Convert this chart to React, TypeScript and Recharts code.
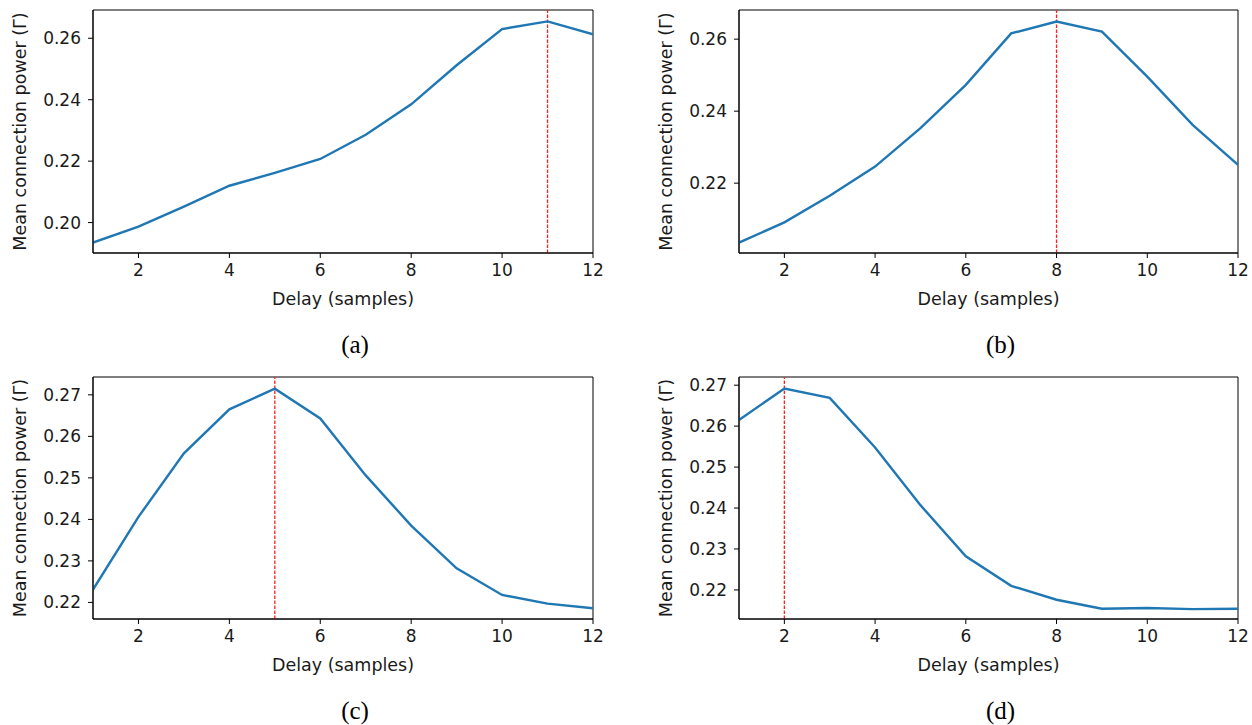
import { Label, Line, LineChart, ReferenceArea, ReferenceLine, XAxis, YAxis } from "recharts";

const delays = [1, 2, 3, 4, 5, 6, 7, 8, 9, 10, 11, 12];

const powerA = [0.1935, 0.1987, 0.2052, 0.212, 0.2162, 0.2207, 0.2286, 0.2385, 0.2512, 0.263, 0.2655, 0.2613];
const powerB = [0.2035, 0.2091, 0.2165, 0.2246, 0.2353, 0.2473, 0.2616, 0.2649, 0.2621, 0.2496, 0.2362, 0.2251];
const powerC = [0.2231, 0.2406, 0.2559, 0.2665, 0.2715, 0.2643, 0.2506, 0.2385, 0.2282, 0.2218, 0.2197, 0.2186];
const powerD = [0.2615, 0.2692, 0.2669, 0.2548, 0.2407, 0.2282, 0.221, 0.2176, 0.2154, 0.2156, 0.2153, 0.2154];

const peakA = 11;
const peakB = 8;
const peakC = 5;
const peakD = 2;

const xTicks = [2, 4, 6, 8, 10, 12];
const yTicksA = [0.2, 0.22, 0.24, 0.26];
const yTicksB = [0.22, 0.24, 0.26];
const yTicksCD = [0.22, 0.23, 0.24, 0.25, 0.26, 0.27];

const FONT = "'DejaVu Sans', sans-serif";
const tickStyle = { fontSize: 17, fill: "#1a1a1a", fontFamily: FONT };

interface PanelProps {
  values: number[];
  yDomain: [number, number];
  yTicks: number[];
  peak: number;
  caption: string;
  left: number;
  top: number;
  plotLeft: number;
  plotRight: number;
  plotTop: number;
  plotBottom: number;
}

function Panel({ values, yDomain, yTicks, peak, caption, left, top, plotLeft, plotRight, plotTop, plotBottom }: PanelProps) {
  const W = 640;
  const H = 320;
  const yAxisW = plotLeft - left;
  const xAxisH = 60;
  const data = delays.map((d, i) => ({ delay: d, power: values[i] }));
  return (
    <div style={{ position: "absolute", left, top, width: W, height: H }}>
      <LineChart
        width={W}
        height={H}
        data={data}
        margin={{
          top: plotTop - top,
          right: left + W - plotRight,
          left: 0,
          bottom: top + H - plotBottom - xAxisH,
        }}
      >
        <XAxis
          dataKey="delay"
          type="number"
          domain={[1, 12]}
          ticks={xTicks}
          height={xAxisH}
          tickSize={5}
          tickMargin={6}
          tick={tickStyle}
          axisLine={{ stroke: "#000", strokeWidth: 1 }}
          tickLine={{ stroke: "#000", strokeWidth: 1 }}
          allowDataOverflow
        >
          <Label
            value="Delay (samples)"
            position="insideBottom"
            offset={8}
            style={{ fontSize: 17.5, fill: "#1a1a1a", fontFamily: FONT }}
          />
        </XAxis>
        <YAxis
          type="number"
          domain={yDomain}
          ticks={yTicks}
          width={yAxisW}
          tickSize={5}
          tickMargin={7}
          tick={tickStyle}
          tickFormatter={(v: number) => v.toFixed(2)}
          axisLine={{ stroke: "#000", strokeWidth: 1 }}
          tickLine={{ stroke: "#000", strokeWidth: 1 }}
          allowDataOverflow
        >
          <Label
            value="Mean connection power (Γ)"
            angle={-90}
            position="insideLeft"
            offset={20}
            style={{ fontSize: 17.5, fill: "#1a1a1a", fontFamily: FONT, textAnchor: "middle" }}
          />
        </YAxis>
        <ReferenceArea
          x1={1}
          x2={12}
          y1={yDomain[0]}
          y2={yDomain[1]}
          fill="none"
          stroke="#000"
          strokeWidth={1}
        />
        <ReferenceLine x={peak} stroke="#ff2020" strokeWidth={1.3} strokeDasharray="3.5 1.5" />
        <Line
          type="linear"
          dataKey="power"
          stroke="#1f77b4"
          strokeWidth={2.4}
          dot={false}
          activeDot={false}
          isAnimationActive={false}
        />
      </LineChart>
      <div
        style={{
          position: "absolute",
          left: (plotLeft + plotRight) / 2 - left - 60 + 12,
          width: 120,
          textAlign: "center",
          top: plotBottom - top + 78,
          fontFamily: "'Liberation Serif', serif",
          fontSize: 25,
          color: "#000",
        }}
      >
        {caption}
      </div>
    </div>
  );
}

export default function App() {
  return (
    <div style={{ position: "absolute", left: 0, top: 0, width: 1252, height: 725, background: "#fff" }}>
      <Panel values={powerA} yDomain={[0.1901, 0.2692]} yTicks={yTicksA} peak={peakA} caption="(a)"
        left={0} top={0} plotLeft={93} plotRight={593} plotTop={10} plotBottom={253} />
      <Panel values={powerB} yDomain={[0.2006, 0.2681]} yTicks={yTicksB} peak={peakB} caption="(b)"
        left={646} top={0} plotLeft={739} plotRight={1238} plotTop={10} plotBottom={253} />
      <Panel values={powerC} yDomain={[0.216, 0.2743]} yTicks={yTicksCD} peak={peakC} caption="(c)"
        left={0} top={360} plotLeft={93} plotRight={593} plotTop={377} plotBottom={619} />
      <Panel values={powerD} yDomain={[0.2129, 0.272]} yTicks={yTicksCD} peak={peakD} caption="(d)"
        left={646} top={360} plotLeft={739} plotRight={1238} plotTop={377} plotBottom={619} />
    </div>
  );
}
